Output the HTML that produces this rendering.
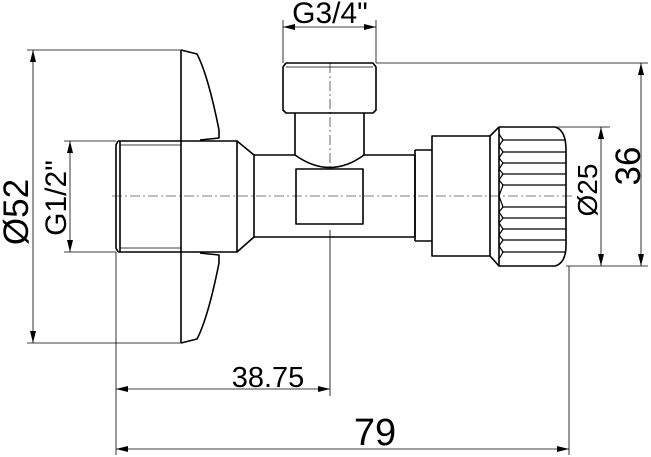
<!DOCTYPE html>
<html><head><meta charset="utf-8"><style>
html,body{margin:0;padding:0;background:#fff;}
svg{display:block;}
text{font-family:"Liberation Sans",sans-serif;fill:#000;}
</style></head><body>
<svg width="651" height="457" viewBox="0 0 651 457" xmlns="http://www.w3.org/2000/svg">
<defs>
<marker id="a" viewBox="0 0 12 6" refX="12" refY="3" markerWidth="12" markerHeight="6" orient="auto-start-reverse" markerUnits="userSpaceOnUse"><path d="M0,0 L12,3 L0,6 z" fill="#000"/></marker>
</defs>
<g stroke="#000" stroke-width="0.8" fill="none">
<line x1="27" y1="50" x2="181" y2="50"/>
<line x1="27" y1="343" x2="181" y2="343"/>
<line x1="64" y1="141" x2="116" y2="141"/>
<line x1="64" y1="252" x2="116" y2="252"/>
<line x1="116" y1="252" x2="116" y2="455"/>
<line x1="330" y1="230" x2="330" y2="396"/>
<line x1="569" y1="266" x2="569" y2="455"/>
<line x1="283" y1="20" x2="283" y2="63"/>
<line x1="376" y1="20" x2="376" y2="63"/>
<line x1="376" y1="63" x2="648" y2="63"/>
<line x1="566" y1="266" x2="648" y2="266"/>
<line x1="530" y1="127" x2="610" y2="127"/>
<line x1="33" y1="50" x2="33" y2="343" marker-start="url(#a)" marker-end="url(#a)"/>
<line x1="70" y1="141" x2="70" y2="252" marker-start="url(#a)" marker-end="url(#a)"/>
<line x1="116" y1="389" x2="330" y2="389" marker-start="url(#a)" marker-end="url(#a)"/>
<line x1="116" y1="449" x2="569" y2="449" marker-start="url(#a)" marker-end="url(#a)"/>
<line x1="283" y1="27" x2="376" y2="27" marker-start="url(#a)" marker-end="url(#a)"/>
<line x1="641" y1="63" x2="641" y2="266" marker-start="url(#a)" marker-end="url(#a)"/>
<line x1="601" y1="127" x2="601" y2="266" marker-start="url(#a)" marker-end="url(#a)"/>
<line x1="112" y1="196" x2="575" y2="196" stroke-dasharray="10,3,2,3" stroke-width="0.6"/>
<line x1="330" y1="63" x2="330" y2="170" stroke-dasharray="10,3,2,3" stroke-width="0.6"/>
</g>
<g stroke="#000" stroke-width="1.6" fill="none" stroke-linejoin="round">
<line x1="181" y1="50" x2="181" y2="343"/>
<path d="M181,50 L197,54 Q208,75 219,130 L219,138 L200,140"/>
<path d="M181,343 L197,339 Q208,318 219,263 L219,255 L200,253"/>
<path d="M118,141 L181,141 M118,252 L181,252 M118,141 L116,145 L116,248 L118,252 M120,141 L120,252"/>
<line x1="120" y1="145" x2="181" y2="145" stroke-width="0.8"/>
<line x1="120" y1="248" x2="181" y2="248" stroke-width="0.8"/>
<path d="M181,141 L237,141 L254,155 L254,237 L237,252 L181,252 M237,141 L237,252"/>
<path d="M254,155 L295,155 M364,155 L415,155 M254,237 L415,237 M415,155 L415,237"/>
<path d="M295,113 L295,155 Q330,180 364,155 L364,113"/>
<path d="M286,63 L373,63 L376,67 L376,110 L373,113 L286,113 L283,110 L283,67 Z"/>
<line x1="286" y1="67" x2="373" y2="67" stroke-width="0.8"/>
<rect x="296" y="169" width="67" height="55"/>
<path d="M415,150 L432,150 M415,241 L432,241 M415,150 L415,241"/>
<rect x="432" y="136" width="58" height="120"/>
<path d="M490,136 L499,127 L555,127 Q566,130 566,150 L566,245 Q566,263 555,266 L499,266 L490,256"/>
<line x1="499" y1="127" x2="499" y2="266"/>
</g>
<g stroke="#000" stroke-width="1.2" fill="none">
<line x1="502" y1="140" x2="565" y2="140"/>
<line x1="502" y1="152" x2="566" y2="152"/>
<line x1="502" y1="163" x2="566" y2="163"/>
<line x1="502" y1="174" x2="566" y2="174"/>
<line x1="502" y1="185" x2="566" y2="185"/>
<line x1="502" y1="207" x2="566" y2="207"/>
<line x1="502" y1="218" x2="566" y2="218"/>
<line x1="502" y1="229" x2="566" y2="229"/>
<line x1="502" y1="240" x2="566" y2="240"/>
<line x1="502" y1="252" x2="565" y2="252"/>
<path d="M499,134 L503,140 L499,146 L503,152 L499,158 L503,163 L499,169 L503,174 L499,180 L503,185 L499,196 L503,207 L499,212 L503,218 L499,223 L503,229 L499,235 L503,240 L499,246 L503,252 L499,259"/>
</g>
<text x="330" y="23" font-size="30" text-anchor="middle">G3/4"</text>
<text x="268" y="387" font-size="29" text-anchor="middle">38.75</text>
<text x="375" y="445" font-size="38" text-anchor="middle">79</text>
<text transform="translate(28,212) rotate(-90)" font-size="35" text-anchor="middle">Ø52</text>
<text transform="translate(66,198) rotate(-90)" font-size="30" text-anchor="middle">G1/2"</text>
<text transform="translate(597,190) rotate(-90)" font-size="28" text-anchor="middle">Ø25</text>
<text transform="translate(640,166) rotate(-90)" font-size="35" text-anchor="middle">36</text>
</svg>
</body></html>
